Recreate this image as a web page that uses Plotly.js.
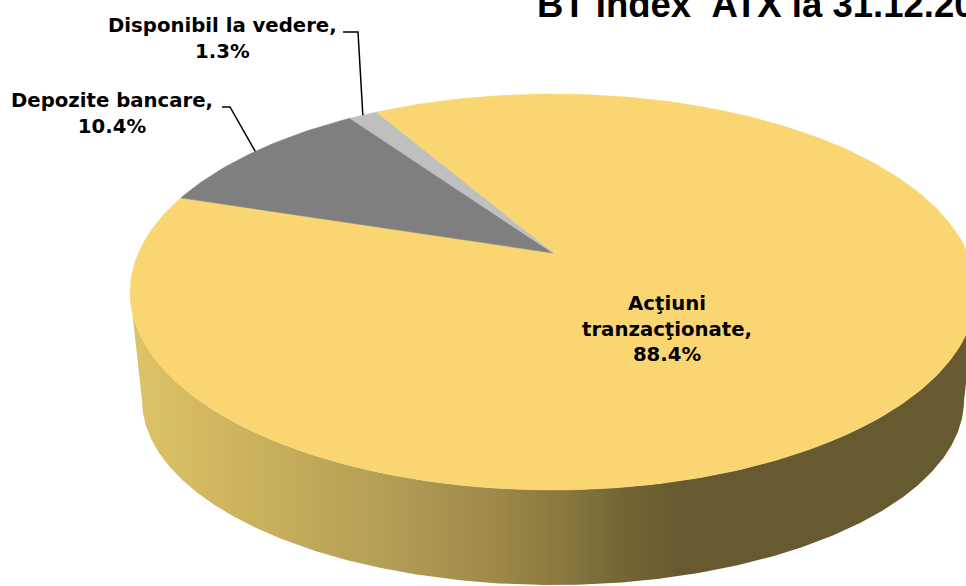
<!DOCTYPE html>
<html>
<head>
<meta charset="utf-8">
<script src="https://cdn.plot.ly/plotly-3.0.1.min.js"></script>
<style>html,body{margin:0;padding:0;background:#fff;}#chart{width:966px;height:586px;}</style>
</head>
<body>
<div id="chart"></div>
<script>
// ---- data ----
const categories = ['Acţiuni tranzacţionate', 'Depozite bancare', 'Disponibil la vedere'];
const values = [88.4, 10.4, 1.3];
const labelLines = ['Acţiuni<br>tranzacţionate', 'Depozite bancare', 'Disponibil la vedere'];
const sliceColors = ['#F9D672', '#7F7F7F', '#BFBFBF'];
const titleText = 'BT Index\u00a0\u00a0ATX la 31.12.20';

// ---- 3D-perspective pie geometry (layout, pixel space) ----
const CX = 553, CY = 253, F = 2105, G = 966, D = 5.077, START = 330;
const FB = 2046, GB = 903, CYB = 363.5;
const rad = d => d * Math.PI / 180;
function proj(thetaDeg, f, g, cy) {
  const t = rad(thetaDeg), u = Math.sin(t), v = Math.cos(t), d = D + v;
  return [CX + f * u / d, cy - g * v / d];
}

const traces = [];
// side (front wall)
const thL = Math.acos(-1 / D) * 180 / Math.PI; // right extreme
const thR = 360 - thL;                          // left extreme
const sx = [], sy = [];
for (let a = thL; a <= thR + 1e-9; a += 0.5) { const p = proj(a, F, G, CY); sx.push(p[0]); sy.push(p[1]); }
for (let a = thR; a >= thL - 1e-9; a -= 0.5) { const p = proj(a, FB, GB, CYB); sx.push(p[0]); sy.push(p[1]); }
traces.push({
  type: 'scatter', mode: 'lines', x: sx, y: sy, fill: 'toself',
  line: {width: 0, color: 'rgba(0,0,0,0)'},
  fillgradient: {type: 'horizontal', colorscale: [
    [0, '#dec468'], [0.083, '#d4b960'], [0.319, '#b09c55'], [0.437, '#9c8848'],
    [0.508, '#8a7940'], [0.579, '#746635'], [0.65, '#675a30'], [1, '#675a30']]},
  hoverinfo: 'skip', showlegend: false
});

// top slices
const total = values.reduce((a, b) => a + b, 0);
let acc = START;
const mids = [];
values.forEach((val, i) => {
  const span = val / total * 360;
  const a0 = acc, a1 = acc + span;
  const xs = [CX], ys = [CY];
  const n = Math.max(4, Math.ceil(span));
  for (let k = 0; k <= n; k++) { const p = proj(a0 + span * k / n, F, G, CY); xs.push(p[0]); ys.push(p[1]); }
  xs.push(CX); ys.push(CY);
  traces.push({
    type: 'scatter', mode: 'lines', x: xs, y: ys, fill: 'toself',
    fillcolor: sliceColors[i], line: {width: 0.6, color: sliceColors[i]},
    name: categories[i], hoverinfo: 'skip', showlegend: false
  });
  mids.push((a0 + a1) / 2);
  acc = a1;
});

// leader lines for the two small slices
const leaderStart = {1: [[222, 107], [230, 107]], 2: [[343, 32], [358, 32]]};
[1, 2].forEach(i => {
  const p = proj(mids[i], F, G, CY);
  const pts = leaderStart[i].concat([p]);
  traces.push({
    type: 'scatter', mode: 'lines', x: pts.map(q => q[0]), y: pts.map(q => q[1]),
    line: {width: 1.5, color: '#000'}, hoverinfo: 'skip', showlegend: false
  });
});

const labelPos = [[667, 329], [112, 113.5], [222, 38]];
const lblFont = {family: 'DejaVu Sans', size: 19.7, color: '#000', weight: 'bold'};
const annotations = values.map((v, i) => ({
  xref: 'x', yref: 'y', x: labelPos[i][0], y: labelPos[i][1],
  xanchor: 'center', yanchor: 'middle', showarrow: false, align: 'center',
  text: labelLines[i] + ',<br>' + v.toFixed(1) + '%', font: lblFont
}));
annotations.push({
  xref: 'x', yref: 'y', x: 535, y: 4, xanchor: 'left', yanchor: 'middle',
  showarrow: false, text: titleText,
  font: {family: 'Liberation Sans', size: 36.5, color: '#000', weight: 'bold'}
});

const layout = {
  width: 966, height: 586, margin: {l: 0, r: 0, t: 0, b: 0},
  paper_bgcolor: '#fff', plot_bgcolor: '#fff', showlegend: false,
  xaxis: {range: [0, 966], visible: false, fixedrange: true},
  yaxis: {range: [586, 0], visible: false, fixedrange: true},
  annotations: annotations
};
Plotly.newPlot('chart', traces, layout, {staticPlot: true, displayModeBar: false});
</script>
</body>
</html>
